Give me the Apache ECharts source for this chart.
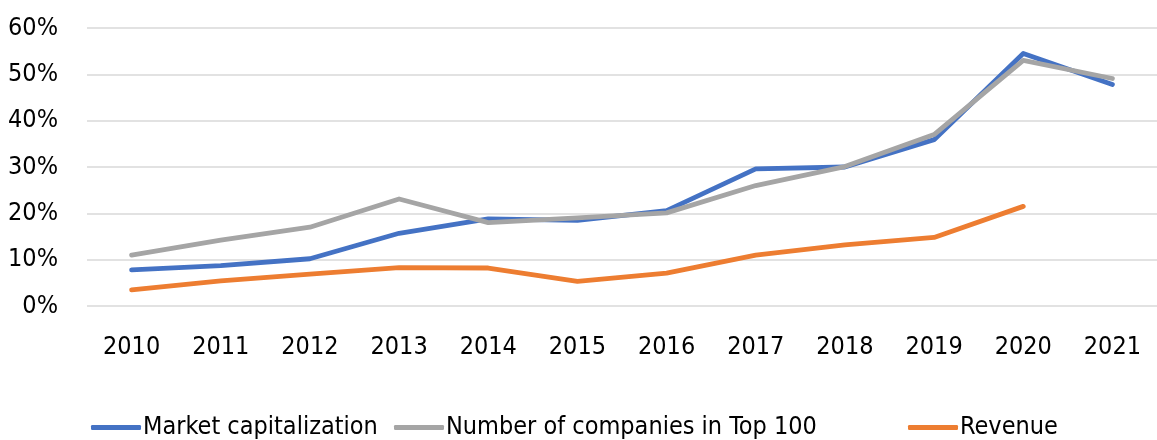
<!DOCTYPE html>
<html>
<head>
<meta charset="utf-8">
<script src="https://cdn.jsdelivr.net/npm/echarts@6/dist/echarts.min.js"></script>
<style>
  html, body { margin: 0; padding: 0; background: #fff; }
  #chart { width: 1157px; height: 440px; }
</style>
</head>
<body>
<div id="chart"></div>
<script>
// values in percent
const years = ['2010', '2011', '2012', '2013', '2014', '2015', '2016', '2017', '2018', '2019', '2020', '2021'];
const marketCap = [7.8, 8.7, 10.2, 15.7, 18.8, 18.5, 20.6, 29.6, 30.0, 35.9, 54.5, 47.8];
const top100 = [11.0, 14.2, 17.0, 23.1, 18.0, 19.0, 20.1, 26.0, 30.1, 37.0, 53.0, 49.1];
const revenue = [3.5, 5.4, 6.9, 8.3, 8.2, 5.3, 7.1, 11.0, 13.2, 14.8, 21.5, null];
const yTicks = [0, 10, 20, 30, 40, 50, 60];
const seriesNames = ['Market capitalization', 'Number of companies in Top 100', 'Revenue'];

const font = "'Liberation Sans Narrow', 'DejaVu Sans Condensed', sans-serif";
const fs = 25;

const chart = echarts.init(document.getElementById('chart'));

function lineSeries(name, data, color) {
    return {
        name: name,
        type: 'line',
        data: data,
        showSymbol: false,
        symbol: 'none',
        connectNulls: false,
        lineStyle: { color: color, width: 4.8, cap: 'round', join: 'round' },
        itemStyle: { color: color },
        emphasis: { disabled: true }
    };
}

// one legend per item so each sits where it does in the original
const legendLeft = [88, 391, 905];
const legends = seriesNames.map((n, i) => ({
    left: legendLeft[i] - 2,
    top: 410,
    icon: 'roundRect',
    itemWidth: 50,
    itemHeight: 5,
    textStyle: { color: '#000', fontSize: fs, fontFamily: font, padding: [0, 0, 0, -3] },
    data: [n]
}));

const option = {
    animation: false,
    grid: { left: 87, right: -12, top: 28, bottom: 134 },
    xAxis: {
        type: 'category',
        data: years,
        boundaryGap: true,
        axisLine: { show: false },
        axisTick: { show: false },
        axisLabel: { color: '#000', fontSize: fs, fontFamily: font, margin: 29 }
    },
    yAxis: {
        type: 'value',
        min: yTicks[0],
        max: yTicks[yTicks.length - 1],
        interval: 10,
        axisLine: { show: false },
        axisTick: { show: false },
        axisLabel: { color: '#000', fontSize: fs, fontFamily: font, margin: 29, formatter: '{value}%' },
        splitLine: { lineStyle: { color: '#D9D9D9', width: 1.5 } }
    },
    legend: legends,
    series: [
        lineSeries(seriesNames[0], marketCap, '#4472C4'),
        lineSeries(seriesNames[1], top100, '#A5A5A5'),
        lineSeries(seriesNames[2], revenue, '#ED7D31')
    ]
};

chart.setOption(option);
</script>
</body>
</html>
